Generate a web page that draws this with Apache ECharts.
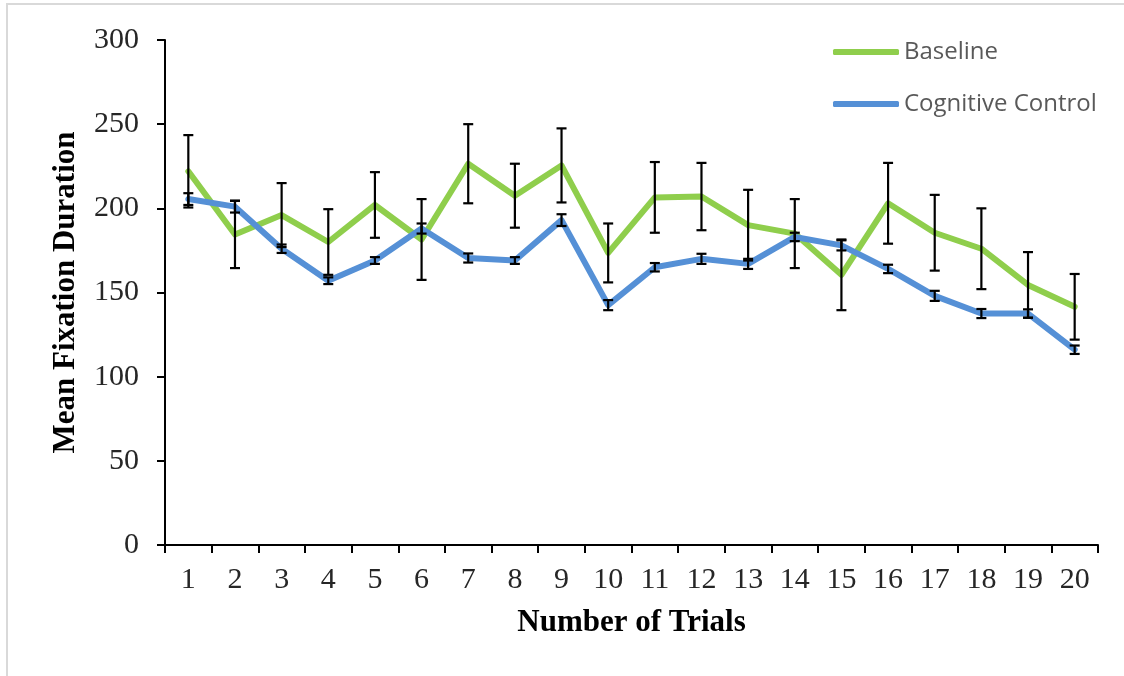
<!DOCTYPE html>
<html>
<head>
<meta charset="utf-8">
<script src="https://cdn.jsdelivr.net/npm/echarts@6/dist/echarts.min.js"></script>
<style>
  html, body { margin: 0; padding: 0; background: #ffffff; }
  #chart { width: 1124px; height: 676px; }
</style>
</head>
<body>
<div id="chart"></div>
<script>
// Trial numbers on the x axis
const trials = ['1','2','3','4','5','6','7','8','9','10','11','12','13','14','15','16','17','18','19','20'];

// Mean fixation duration per trial, with the half-width of each error bar
const baseline    = [222, 184.5, 196, 180, 202, 181.5, 226.5, 207.5, 225.5, 173.5, 206.5, 207, 190, 185, 160.5, 203, 185.5, 176, 154.5, 141.5];
const baselineErr = [21.5, 20, 19, 19.5, 19.5, 24, 23.5, 19, 22, 17.5, 21, 20, 21, 20.5, 21, 24, 22.5, 24, 19.5, 19.5];
const control     = [205.5, 201, 176, 157, 169, 188, 170.5, 169, 193, 142.5, 165, 170, 167, 183, 178, 164, 148, 137.5, 137.5, 116];
const controlErr  = [3.5, 3.5, 2.5, 2, 2, 3, 2.7, 2, 3.5, 3, 2.5, 3, 3, 2.5, 3, 2.5, 3, 2.7, 2.5, 2.5];

// Y axis range and step
const yMin = 0, yMax = 300, yStep = 50;

const GREEN = '#8fce4c';
const BLUE = '#5590d6';

function errData(vals, errs) {
  return vals.map((v, i) => [i, v - errs[i], v + errs[i]]);
}

function renderErrorBar(params, api) {
  const x = api.value(0);
  const lo = api.coord([x, api.value(1)]);
  const hi = api.coord([x, api.value(2)]);
  const half = 5;
  const style = { stroke: '#000', lineWidth: 2.2 };
  return {
    type: 'group',
    children: [
      { type: 'line', shape: { x1: hi[0], y1: hi[1], x2: lo[0], y2: lo[1] }, style },
      { type: 'line', shape: { x1: hi[0] - half, y1: hi[1], x2: hi[0] + half, y2: hi[1] }, style },
      { type: 'line', shape: { x1: lo[0] - half, y1: lo[1], x2: lo[0] + half, y2: lo[1] }, style }
    ]
  };
}

const chart = echarts.init(document.getElementById('chart'), null, { renderer: 'canvas' });

chart.setOption({
  backgroundColor: '#ffffff',
  animation: false,
  graphic: [{
    type: 'rect',
    silent: true,
    z: -10,
    shape: { x: 7, y: 4, width: 1300, height: 800 },
    style: { fill: 'none', stroke: '#d9d9d9', lineWidth: 2 }
  }],
  legend: {
    orient: 'vertical',
    left: 833,
    top: 38,
    padding: 0,
    itemWidth: 66,
    itemHeight: 6,
    itemGap: 24,
    icon: 'roundRect',
    textStyle: {
      fontFamily: 'Open Sans',
      fontSize: 24,
      color: '#595959',
      lineHeight: 28
    },
    data: ['Baseline', 'Cognitive Control']
  },
  grid: {
    left: 165,
    right: 26,
    top: 40,
    bottom: 131,
    containLabel: false
  },
  xAxis: {
    type: 'category',
    data: trials,
    boundaryGap: true,
    name: 'Number of Trials',
    nameLocation: 'middle',
    nameGap: 62,
    nameTextStyle: {
      fontFamily: 'Liberation Serif',
      fontWeight: 'bold',
      fontSize: 31,
      color: '#000'
    },
    axisLine: { show: true, lineStyle: { color: '#000', width: 2 } },
    axisTick: { show: true, interval: 0, length: 8, alignWithLabel: false, lineStyle: { color: '#000', width: 2 } },
    axisLabel: {
      interval: 0,
      margin: 20,
      fontFamily: 'Liberation Serif',
      fontSize: 30,
      color: '#262626'
    },
    splitLine: { show: false }
  },
  yAxis: {
    type: 'value',
    min: yMin,
    max: yMax,
    interval: yStep,
    name: 'Mean Fixation Duration',
    nameLocation: 'middle',
    nameGap: 84,
    nameRotate: 90,
    nameTextStyle: {
      fontFamily: 'Liberation Serif',
      fontWeight: 'bold',
      fontSize: 31,
      color: '#000'
    },
    axisLine: { show: true, lineStyle: { color: '#000', width: 2 } },
    axisTick: { show: true, length: 8, lineStyle: { color: '#000', width: 2 } },
    axisLabel: {
      margin: 26,
      fontFamily: 'Liberation Serif',
      fontSize: 30,
      color: '#262626'
    },
    splitLine: { show: false }
  },
  series: [
    {
      name: 'Baseline',
      type: 'line',
      data: baseline,
      symbol: 'none',
      color: GREEN,
      z: 2,
      lineStyle: { color: GREEN, width: 6, cap: 'round', join: 'round' }
    },
    {
      name: 'Cognitive Control',
      type: 'line',
      data: control,
      symbol: 'none',
      color: BLUE,
      z: 3,
      lineStyle: { color: BLUE, width: 6, cap: 'round', join: 'round' }
    },
    {
      name: 'Baseline error',
      type: 'custom',
      data: errData(baseline, baselineErr),
      encode: { x: 0, y: [1, 2] },
      renderItem: renderErrorBar,
      z: 4
    },
    {
      name: 'Cognitive Control error',
      type: 'custom',
      data: errData(control, controlErr),
      encode: { x: 0, y: [1, 2] },
      renderItem: renderErrorBar,
      z: 4
    }
  ]
});
</script>
</body>
</html>
